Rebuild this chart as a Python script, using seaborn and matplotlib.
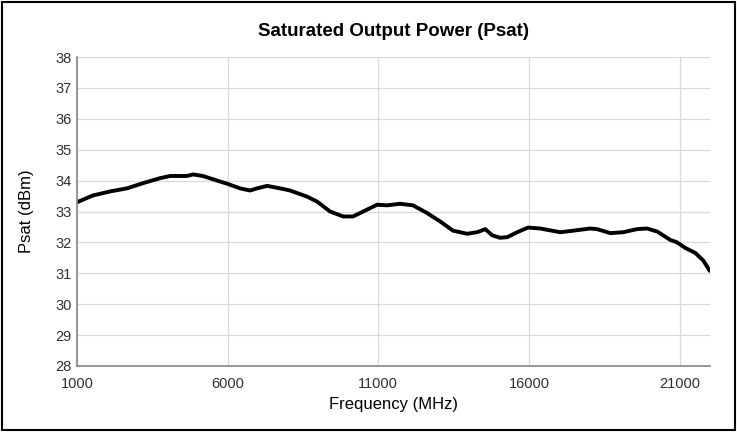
import pandas as pd
import seaborn as sns
import matplotlib.pyplot as plt
from matplotlib.patches import Rectangle

########## Data

freq_mhz = [1000, 1530, 2100, 2660, 3200, 3760, 4090, 4650, 4850, 5180,
            5650, 5980, 6410, 6740, 6980, 7310, 7840, 8070, 8640, 8970,
            9400, 9830, 10160, 10500, 10960, 11290, 11720, 12150, 12620, 13050,
            13480, 13950, 14280, 14550, 14780, 15040, 15280, 15610, 15970, 16370,
            17040, 17470, 18030, 18260, 18700, 19130, 19590, 19920, 20260, 20690,
            20920, 21190, 21520, 21790, 22000]
psat_dbm = [33.30, 33.52, 33.65, 33.75, 33.92, 34.08, 34.15, 34.15, 34.20, 34.15,
            34.00, 33.90, 33.75, 33.68, 33.75, 33.83, 33.73, 33.68, 33.48, 33.32,
            33.00, 32.84, 32.84, 33.00, 33.22, 33.20, 33.25, 33.20, 32.95, 32.68,
            32.38, 32.28, 32.33, 32.43, 32.23, 32.15, 32.17, 32.33, 32.48, 32.45,
            32.33, 32.38, 32.45, 32.43, 32.30, 32.33, 32.43, 32.45, 32.35, 32.08,
            32.00, 31.82, 31.66, 31.41, 31.08]
x_ticks = [1000, 6000, 11000, 16000, 21000]
y_ticks = list(range(28, 39))

df = pd.DataFrame({'Frequency': freq_mhz, 'Psat': psat_dbm})

########## Plotting

sns.set_style('white')
plt.rcParams['font.family'] = ['Liberation Sans', 'DejaVu Sans']

fig = plt.figure(figsize = (7.37, 4.32), dpi = 100)
ax = fig.add_axes([0.1045, 0.1528, 0.8585, 0.7152])

sns.lineplot(data = df, x = 'Frequency', y = 'Psat', color = 'black', linewidth = 2.8, ax = ax)

ax.set_xlim(1000, 22000)
ax.set_ylim(28, 38)
ax.set_xticks(x_ticks)
ax.set_yticks(y_ticks)
ax.grid(True, color = '#d9d9d9', linewidth = 0.9)
ax.set_axisbelow(True)
ax.tick_params(axis = 'both', length = 0, labelsize = 10.5, colors = '#303030')
ax.tick_params(axis = 'x', pad = 8)
ax.tick_params(axis = 'y', pad = 4)

for side in ['top', 'right']:
    ax.spines[side].set_visible(False)
for side in ['left', 'bottom']:
    ax.spines[side].set_color('#868686')
    ax.spines[side].set_linewidth(1.2)

ax.set_title('Saturated Output Power (Psat)', fontsize = 13.5, fontweight = 'bold',
             color = 'black', pad = 15)
ax.set_xlabel('Frequency (MHz)', fontsize = 12, labelpad = 4, color = 'black')
ax.set_ylabel('Psat (dBm)', fontsize = 12, labelpad = 15, color = 'black')

# outer frame of the chart
fig.patches.append(Rectangle((0.003, 0.004), 0.994, 0.992, transform = fig.transFigure,
                             fill = False, edgecolor = 'black', linewidth = 1.5))

fig.savefig('out.png', dpi = 100)
